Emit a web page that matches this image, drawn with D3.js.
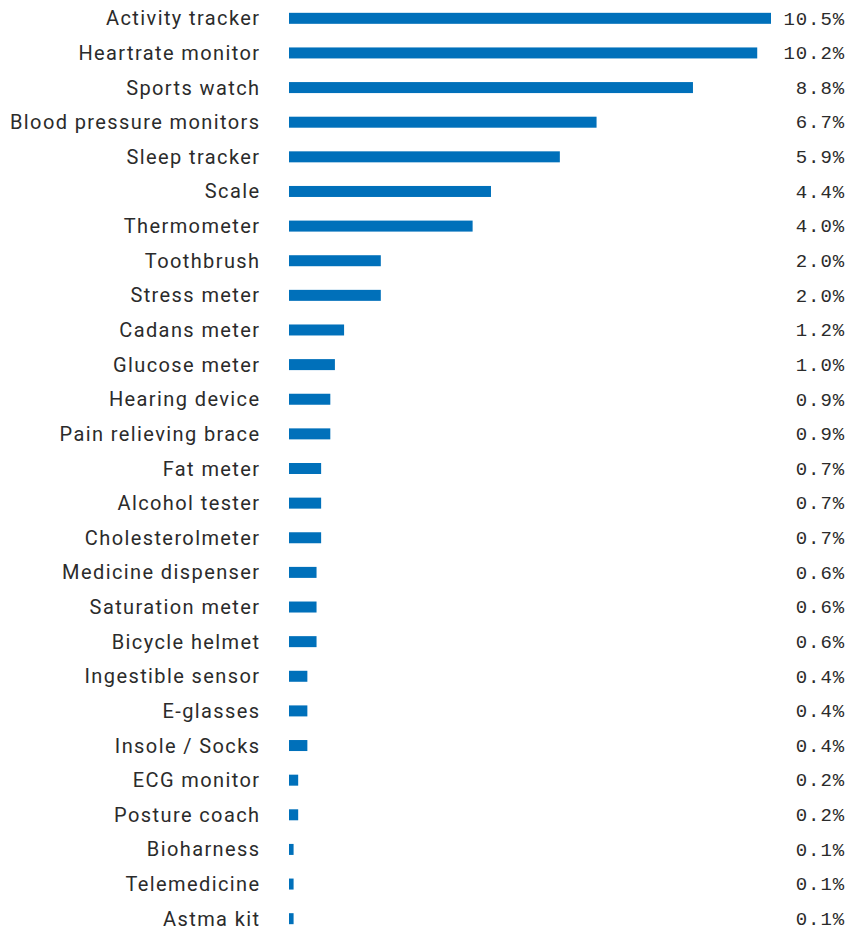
<!DOCTYPE html>
<html><head><meta charset="utf-8">
<script src="https://cdn.jsdelivr.net/npm/d3@7"></script>
<style>body{margin:0;background:#fff}</style>
</head><body>
<svg id="c" width="852" height="929"></svg>
<script>
const categories = ["Activity tracker","Heartrate monitor","Sports watch","Blood pressure monitors","Sleep tracker","Scale","Thermometer","Toothbrush","Stress meter","Cadans meter","Glucose meter","Hearing device","Pain relieving brace","Fat meter","Alcohol tester","Cholesterolmeter","Medicine dispenser","Saturation meter","Bicycle helmet","Ingestible sensor","E-glasses","Insole / Socks","ECG monitor","Posture coach","Bioharness","Telemedicine","Astma kit"];
const values = [10.5,10.2,8.8,6.7,5.9,4.4,4.0,2.0,2.0,1.2,1.0,0.9,0.9,0.7,0.7,0.7,0.6,0.6,0.6,0.4,0.4,0.4,0.2,0.2,0.1,0.1,0.1];

const svg = d3.select("#c");
const x = d3.scaleLinear().domain([0,10.5]).range([289,771]);
const y = d3.scaleBand().domain(categories).range([1,936]).paddingInner(0.68).paddingOuter(0.34);
const data = categories.map((c,i)=>({c, v: values[i]}));

svg.selectAll("rect.bar").data(data).join("rect")
  .attr("class","bar")
  .attr("x", x(0))
  .attr("y", d => y(d.c) + y.bandwidth()/2 - 5.5)
  .attr("width", d => x(d.v) - x(0))
  .attr("height", 11)
  .attr("fill", "#0070ba");

svg.selectAll("text.lab").data(data).join("text")
  .attr("class","lab")
  .attr("x", 260.5)
  .attr("y", d => y(d.c) + y.bandwidth()/2)
  .attr("dy","0.35em")
  .attr("text-anchor","end")
  .attr("font-family","Roboto, 'Liberation Sans', sans-serif")
  .attr("font-size", 20)
  .attr("letter-spacing", 1.4)
  .attr("fill","#2b2b2b")
  .text(d => d.c);

svg.selectAll("text.val").data(data).join("text")
  .attr("class","val")
  .attr("x", 845)
  .attr("y", d => y(d.c) + y.bandwidth()/2)
  .attr("dy","0.33em")
  .attr("text-anchor","end")
  .attr("font-family","'Liberation Mono', 'DejaVu Sans Mono', monospace")
  .attr("font-size", 19)
  .attr("letter-spacing", 0.9)
  .attr("fill","#2b2b2b")
  .text(d => d.v.toFixed(1) + "%");
</script>
</body></html>
